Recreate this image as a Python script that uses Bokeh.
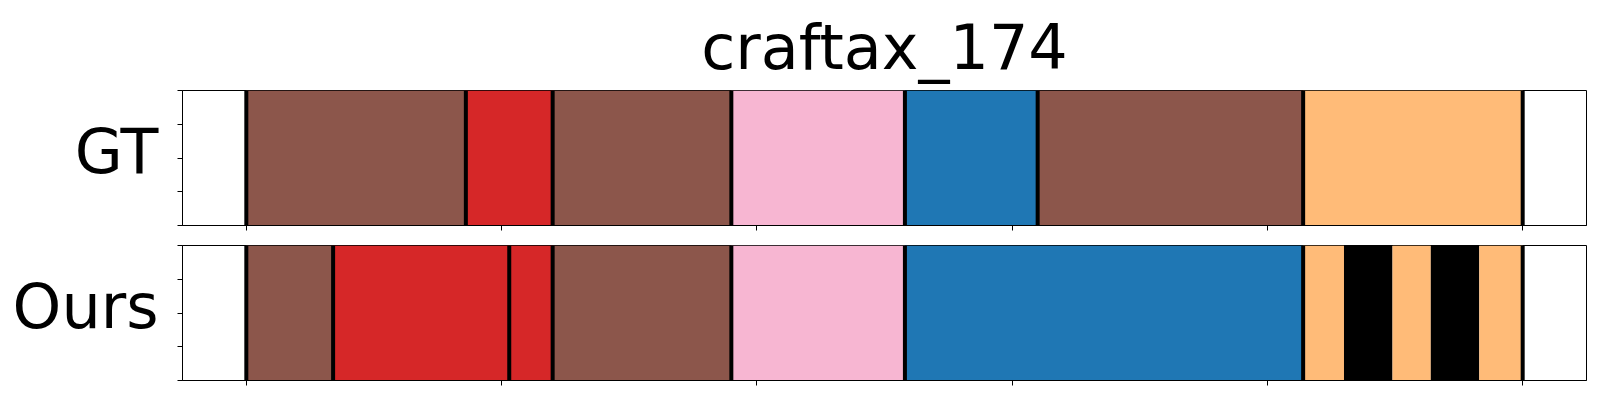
from bokeh.plotting import figure
from bokeh.models import ColumnDataSource, FixedTicker, LinearAxis, Range1d, CustomLabelingPolicy
from bokeh.layouts import column
from bokeh.embed import file_html
from bokeh.resources import INLINE

title_text = "craftax_174"
row_names = ["GT", "Ours"]

BROWN = "#8c564b"
RED = "#d62728"
PINK = "#f7b6d2"
BLUE = "#1f77b4"
ORANGE = "#ffbb78"
BLACK = "#000000"

gt_starts = [0, 43, 60, 95, 129, 155, 207]
gt_ends = [43, 60, 95, 129, 155, 207, 250]
gt_colors = [BROWN, RED, BROWN, PINK, BLUE, BROWN, ORANGE]
gt_bounds = [0, 43, 60, 95, 129, 155, 207, 250]

ours_starts = [0, 17, 51.5, 60, 95, 129, 207, 215, 224.5, 232, 241.5]
ours_ends = [17, 51.5, 60, 95, 129, 207, 215, 224.5, 232, 241.5, 250]
ours_colors = [BROWN, RED, RED, BROWN, PINK, BLUE, ORANGE, BLACK, ORANGE, BLACK, ORANGE]
ours_bounds = [0, 17, 51.5, 60, 95, 129, 207, 250]

x_ticks = [0, 50, 100, 150, 200, 250]
y_ticks = [0, 0.25, 0.5, 0.75, 1.0]
x_lo, x_hi = -12.5, 262.5
label_pos = 0.55

FONT = "DejaVu Sans"

HIDE_CODE = """
try {
  for (const i of Array.from(indices.ones())) indices.unset(i);
} catch (e) {}
return indices;
"""


def make_panel(name, starts, ends, colors, bounds, top_border, bottom_border, title=None):
    p = figure(
        output_backend="svg",
        toolbar_location=None,
        frame_width=1404,
        frame_height=135,
        min_border_left=182,
        min_border_right=6,
        min_border_top=top_border,
        min_border_bottom=bottom_border,
        x_range=Range1d(x_lo, x_hi),
        y_range=Range1d(0, 1),
        title=title,
    )
    p.xgrid.visible = False
    p.ygrid.visible = False
    p.outline_line_color = "black"
    p.outline_line_width = 1
    p.background_fill_color = "white"
    p.border_fill_color = "white"

    src = ColumnDataSource(dict(left=starts, right=ends, color=colors,
                                bottom=[0] * len(starts), top=[1] * len(starts)))
    p.quad(left="left", right="right", bottom="bottom", top="top",
           fill_color="color", line_color=None, source=src)
    bsrc = ColumnDataSource(dict(x=bounds, y0=[0] * len(bounds), y1=[1] * len(bounds)))
    p.segment(x0="x", y0="y0", x1="x", y1="y1", line_color="black",
              line_width=4, source=bsrc)

    for ax in (p.xaxis[0], p.yaxis[0]):
        ax.major_label_text_font_size = "0px"
        ax.major_label_standoff = 0
        ax.major_label_policy = CustomLabelingPolicy(code=HIDE_CODE)
        ax.major_tick_in = 0
        ax.major_tick_out = 5
        ax.minor_tick_in = 0
        ax.minor_tick_out = 0
        ax.axis_line_color = "black"
        ax.major_tick_line_color = "black"
    p.xaxis[0].ticker = FixedTicker(ticks=x_ticks)
    p.yaxis[0].ticker = FixedTicker(ticks=y_ticks)

    lab = LinearAxis(ticker=FixedTicker(ticks=[label_pos]),
                     major_label_overrides={label_pos: name})
    lab.axis_line_color = None
    lab.major_tick_line_color = None
    lab.minor_tick_line_color = None
    lab.major_tick_in = 0
    lab.major_tick_out = 0
    lab.major_label_standoff = 19
    lab.major_label_text_font = FONT
    lab.major_label_text_font_size = "62px"
    lab.major_label_text_color = "black"
    p.add_layout(lab, "left")

    if title is not None:
        p.title.text_font = FONT
        p.title.text_font_size = "62px"
        p.title.text_font_style = "normal"
        p.title.align = "center"
        p.title.text_color = "black"
        p.title.standoff = 14
    return p


p1 = make_panel(row_names[0], gt_starts, gt_ends, gt_colors, gt_bounds, 90, 10, title=title_text)
p2 = make_panel(row_names[1], ours_starts, ours_ends, ours_colors, ours_bounds, 10, 10)

layout = column(p1, p2, spacing=0)
open("out.html", "w").write(file_html(layout, INLINE))
